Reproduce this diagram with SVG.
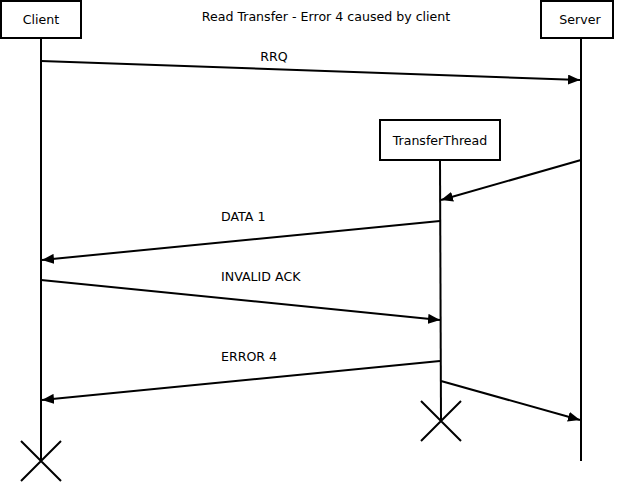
<svg xmlns="http://www.w3.org/2000/svg" width="622" height="482" viewBox="0 0 622 482">
  <style>
    text { font-family: "DejaVu Sans", "Liberation Sans", sans-serif; font-size: 12.6px; fill: #000; }
    .box { fill: #fff; stroke: #000; stroke-width: 2; }
    .life { stroke: #000; stroke-width: 2; fill: none; }
    .msg { stroke: #000; stroke-width: 2; fill: none; marker-end: url(#arrow); }
    .end { stroke: #000; stroke-width: 2; fill: none; }
  </style>
  <defs>
    <marker id="arrow" viewBox="0 0 12 10" refX="12" refY="5" markerWidth="12" markerHeight="10" markerUnits="userSpaceOnUse" orient="auto">
      <path d="M0,0 L12,5 L0,10 Z" fill="#000"/>
    </marker>
  </defs>
  <rect width="622" height="482" fill="#fff"/>

  <text x="326" y="21" text-anchor="middle">Read Transfer - Error 4 caused by client</text>

  <g id="client">
    <line class="life" x1="41" y1="39" x2="41" y2="461"/>
    <rect class="box" x="1" y="1" width="80" height="37"/>
    <text x="41" y="24" text-anchor="middle">Client</text>
    <path class="end" d="M21,441 L61,481 M61,441 L21,481"/>
  </g>

  <g id="server">
    <line class="life" x1="581" y1="39" x2="581" y2="461"/>
    <rect class="box" x="541" y="1" width="72" height="37"/>
    <text x="580" y="24" text-anchor="middle">Server</text>
  </g>

  <g id="transferthread">
    <line class="life" x1="440" y1="161" x2="441" y2="421"/>
    <rect class="box" x="380" y="120" width="120" height="40"/>
    <text x="440" y="145" text-anchor="middle">TransferThread</text>
    <path class="end" d="M421,401 L461,441 M461,401 L421,441"/>
  </g>

  <g id="connectors">
    <line class="msg" x1="41" y1="61" x2="580" y2="80"/>
    <line class="msg" x1="581" y1="160" x2="441" y2="200"/>
    <line class="msg" x1="440" y1="221" x2="42" y2="260"/>
    <line class="msg" x1="41" y1="280" x2="440" y2="320"/>
    <line class="msg" x1="440" y1="361" x2="42" y2="400"/>
    <line class="msg" x1="441" y1="381" x2="580" y2="420"/>
    <text x="274" y="61" text-anchor="middle">RRQ</text>
    <text x="221" y="221">DATA 1</text>
    <text x="221" y="281">INVALID ACK</text>
    <text x="221" y="361">ERROR 4</text>
  </g>
</svg>
